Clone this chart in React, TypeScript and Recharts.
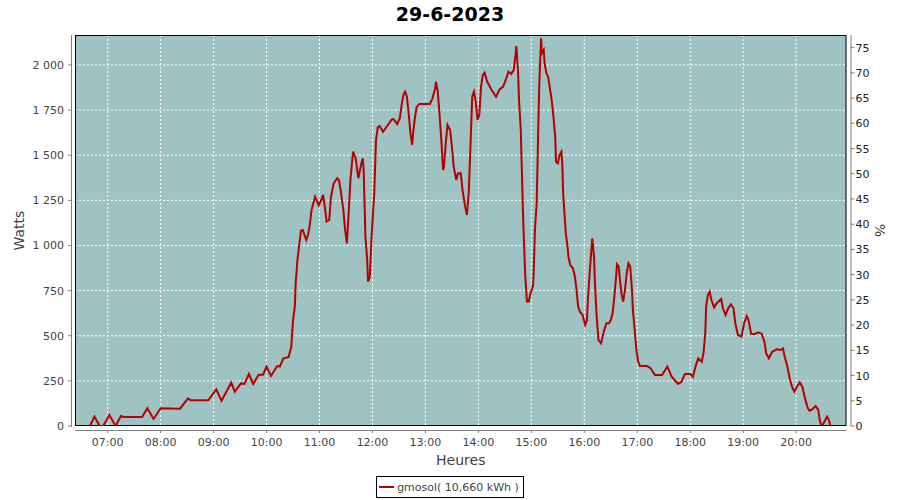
import React from "react";
import { ComposedChart, Line, XAxis, YAxis, CartesianGrid, Legend, usePlotArea } from "recharts";

// minutes since midnight -> watts
const MINUTES = [
  400, 405, 411, 415, 422, 429, 435, 438, 459, 465, 472, 480, 502, 511, 514, 534, 543, 549, 560, 564,
  571, 575, 580, 585, 591, 596, 600, 605, 612, 615, 619, 625, 628, 630, 632, 633, 635, 637, 639, 641,
  645, 647, 649, 651, 655, 659, 662, 664, 666, 668, 671, 673, 676, 680, 682, 684, 687, 689, 691, 693,
  695, 698, 701, 704, 707, 709, 710, 712, 714, 715, 717, 719, 722, 724, 726, 728, 732, 736, 742, 744,
  748, 751, 753, 755, 757, 759, 761, 763, 765, 766, 768, 770, 773, 785, 788, 791, 792, 794, 796, 798,
  800, 801, 803, 805, 808, 810, 812, 815, 817, 820, 822, 825, 827, 829, 831, 833, 835, 837, 839, 841,
  843, 845, 847, 850, 855, 860, 864, 868, 871, 874, 877, 880, 882, 883, 885, 886, 888, 889, 890, 891,
  892, 893, 895, 897, 899, 901, 902, 903, 904, 906, 907, 908, 909, 911, 912, 914, 915, 917, 919, 921,
  923, 925, 927, 928, 930, 932, 934, 935, 936, 938, 939, 941, 942, 944, 947, 949, 951, 953, 955, 958,
  961, 963, 964, 966, 968, 969, 971, 972, 974, 976, 979, 982, 985, 988, 990, 992, 994, 996, 997, 999,
  1000, 1002, 1004, 1006, 1008, 1010, 1012, 1014, 1015, 1017, 1019, 1021, 1023, 1031, 1035, 1040, 1048, 1054, 1059, 1066,
  1070, 1074, 1080, 1083, 1086, 1089, 1093, 1095, 1097, 1098, 1100, 1102, 1104, 1107, 1110, 1115, 1117, 1120, 1123, 1126,
  1129, 1131, 1134, 1138, 1141, 1144, 1146, 1149, 1153, 1157, 1161, 1164, 1166, 1169, 1173, 1178, 1182, 1185, 1187, 1190,
  1193, 1196, 1198, 1201, 1204, 1207, 1210, 1213, 1215, 1218, 1222, 1225, 1227, 1229, 1231, 1235, 1237, 1239,
];
const WATTS = [
  0, 52, 0, 0, 61, 0, 55, 50, 50, 98, 39, 98, 96, 153, 142, 142, 203, 140, 240, 190,
  236, 233, 288, 233, 284, 284, 329, 277, 332, 329, 373, 382, 439, 587, 661, 790, 920, 1003, 1082, 1086,
  1030, 1058, 1113, 1197, 1270, 1224, 1252, 1280, 1215, 1132, 1141, 1270, 1344, 1372, 1363, 1307, 1197, 1086, 1012, 1178,
  1363, 1520, 1483, 1372, 1446, 1483, 1418, 1049, 920, 800, 827, 1049, 1289, 1584, 1655, 1662, 1630, 1658, 1699, 1699,
  1673, 1705, 1778, 1834, 1852, 1824, 1732, 1621, 1557, 1621, 1705, 1766, 1784, 1784, 1815, 1871, 1907, 1852, 1723, 1584,
  1418, 1437, 1566, 1668, 1640, 1547, 1437, 1363, 1400, 1400, 1307, 1215, 1169, 1289, 1547, 1824, 1852, 1797, 1695, 1723,
  1880, 1945, 1957, 1907, 1861, 1824, 1865, 1880, 1917, 1963, 1950, 1972, 2055, 2105, 1954, 1806, 1640, 1455, 1270, 1104,
  975, 837, 689, 689, 735, 763, 781, 901, 1086, 1234, 1455, 1695, 1898, 2148, 2065, 2083, 2009, 1954, 1935, 1871,
  1806, 1714, 1603, 1464, 1455, 1501, 1520, 1455, 1289, 1141, 1068, 993, 938, 892, 874, 837, 763, 661, 633, 615,
  560, 587, 698, 846, 975, 1040, 938, 790, 606, 476, 458, 522, 569, 569, 587, 624, 716, 827, 896, 883,
  827, 735, 689, 753, 846, 901, 883, 753, 643, 532, 421, 356, 332, 332, 320, 283, 283, 329, 273, 233,
  245, 288, 288, 273, 329, 375, 356, 403, 514, 661, 726, 744, 698, 657, 680, 703, 652, 615, 652, 674,
  652, 569, 504, 495, 569, 609, 587, 510, 510, 519, 510, 467, 403, 375, 412, 425, 421, 430, 384, 329,
  255, 209, 190, 218, 242, 218, 153, 101, 85, 92, 111, 89, 24, 0, 15, 52, 33, 0,
];
const HOUR_TICKS = [420, 480, 540, 600, 660, 720, 780, 840, 900, 960, 1020, 1080, 1140, 1200];
const WATT_TICKS = [0, 250, 500, 750, 1000, 1250, 1500, 1750, 2000];
const PCT_TICKS = [0, 5, 10, 15, 20, 25, 30, 35, 40, 45, 50, 55, 60, 65, 70, 75];

const TITLE = "29-6-2023";
const SERIES = "gmosol( 10,660 kWh )";

const W = 900;
const H = 500;
const FONT = "'DejaVu Sans', sans-serif";
const RED = "#b50000";
const BG = "#9ec3c2";
const AXIS = "#808080";
const TXT = "#444444";

const data = MINUTES.map((m, i) => ({ t: m, w: WATTS[i] }));

const hhmm = (m: number) => {
  const h = Math.floor(m / 60);
  const mm = m % 60;
  return `${String(h).padStart(2, "0")}:${String(mm).padStart(2, "0")}`;
};
const thousands = (v: number) => String(v).replace(/\B(?=(\d{3})+(?!\d))/g, " ");

const LeftTick = ({ x, y, payload }: any) => (
  <g>
    <line x1={x + 4} x2={x + 8} y1={y} y2={y} stroke={AXIS} />
    <text x={x} y={y} dy={4} textAnchor="end" fontSize={11} fill={TXT} fontFamily={FONT}>
      {thousands(payload.value)}
    </text>
  </g>
);

const RightTick = ({ x, y, payload }: any) => (
  <g>
    <line x1={x - 5} x2={x - 1} y1={y} y2={y} stroke={AXIS} />
    <text x={x} y={y} dy={4} textAnchor="start" fontSize={11} fill="#222" fontFamily={FONT}>
      {payload.value}
    </text>
  </g>
);

const BottomTick = ({ x, y, payload }: any) => (
  <g>
    <line x1={x} x2={x} y1={y + 4} y2={y + 7} stroke={AXIS} />
    <text x={x} y={y + 20} textAnchor="middle" fontSize={11} fill={TXT} fontFamily={FONT}>
      {hhmm(payload.value)}
    </text>
  </g>
);

function Frame() {
  const area = usePlotArea();
  if (!area) return null;
  const { x, y, width, height } = area;
  const cy = y + height / 2;
  return (
    <g>
      <rect x={x + 0.5} y={y + 0.5} width={width - 1} height={height - 1} fill="none" stroke="#000" />
      <line x1={x - 3.5} x2={x - 3.5} y1={y} y2={y + height + 1} stroke={AXIS} />
      <line x1={x} x2={x + width} y1={y + height + 4.5} y2={y + height + 4.5} stroke={AXIS} />
      <line x1={x + width + 4.5} x2={x + width + 4.5} y1={y} y2={y + height} stroke={AXIS} />
      <text x={W / 2} y={21} textAnchor="middle" fontSize={19} fontWeight="bold" fill="#000" fontFamily={FONT}>
        {TITLE}
      </text>
      <text x={x + width / 2} y={y + height + 39} textAnchor="middle" fontSize={14} fill={TXT} fontFamily={FONT}>
        Heures
      </text>
      <text transform={`translate(19, ${cy}) rotate(-90)`} textAnchor="middle" dy={5} fontSize={14} fill={TXT} fontFamily={FONT}>
        Watts
      </text>
      <text transform={`translate(880, ${cy}) rotate(90)`} textAnchor="middle" dy={5} fontSize={14} fill={TXT} fontFamily={FONT}>
        %
      </text>
    </g>
  );
}

const LegendBox = () => (
  <div style={{ display: "flex", justifyContent: "center" }}>
    <div
      style={{
        border: "1px solid #000",
        height: 20,
        display: "flex",
        alignItems: "center",
        padding: "0 4px 0 2px",
        fontFamily: FONT,
        fontSize: 11,
        color: TXT,
        background: "#fff",
      }}
    >
      <span style={{ display: "inline-block", width: 15, height: 2, background: RED, marginRight: 3 }} />
      {SERIES}
    </div>
  </div>
);

export default function App() {
  return (
    <div style={{ position: "absolute", left: 0, top: 0, width: W, height: H, background: "#fff" }}>
      <ComposedChart width={W} height={H} data={data} margin={{ top: 35, right: 0, bottom: 2, left: 0 }}>
        <CartesianGrid yAxisId="left" stroke="#ffffff" strokeDasharray="2 2" fill={BG} fillOpacity={1} />
        <XAxis
          dataKey="t"
          type="number"
          domain={[383, 1257]}
          ticks={HOUR_TICKS}
          allowDataOverflow
          height={50}
          axisLine={false}
          tickLine={false}
          tickSize={0}
          tickMargin={0}
          tick={<BottomTick />}
          interval={0}
        />
        <YAxis
          yAxisId="left"
          type="number"
          domain={[0, 2166]}
          ticks={WATT_TICKS}
          allowDataOverflow
          width={75}
          axisLine={false}
          tickLine={false}
          tickSize={0}
          tickMargin={11}
          tick={<LeftTick />}
          interval={0}
        />
        <YAxis
          yAxisId="right"
          orientation="right"
          type="number"
          domain={[0, 77.5]}
          ticks={PCT_TICKS}
          allowDataOverflow
          width={53.5}
          axisLine={false}
          tickLine={false}
          tickSize={0}
          tickMargin={9}
          tick={<RightTick />}
          interval={0}
        />
        <Line
          yAxisId="left"
          dataKey="w"
          name={SERIES}
          type="linear"
          stroke={RED}
          strokeWidth={2}
          dot={false}
          activeDot={false}
          isAnimationActive={false}
        />
        <Legend verticalAlign="bottom" height={22} content={<LegendBox />} />
        <Frame />
      </ComposedChart>
    </div>
  );
}
